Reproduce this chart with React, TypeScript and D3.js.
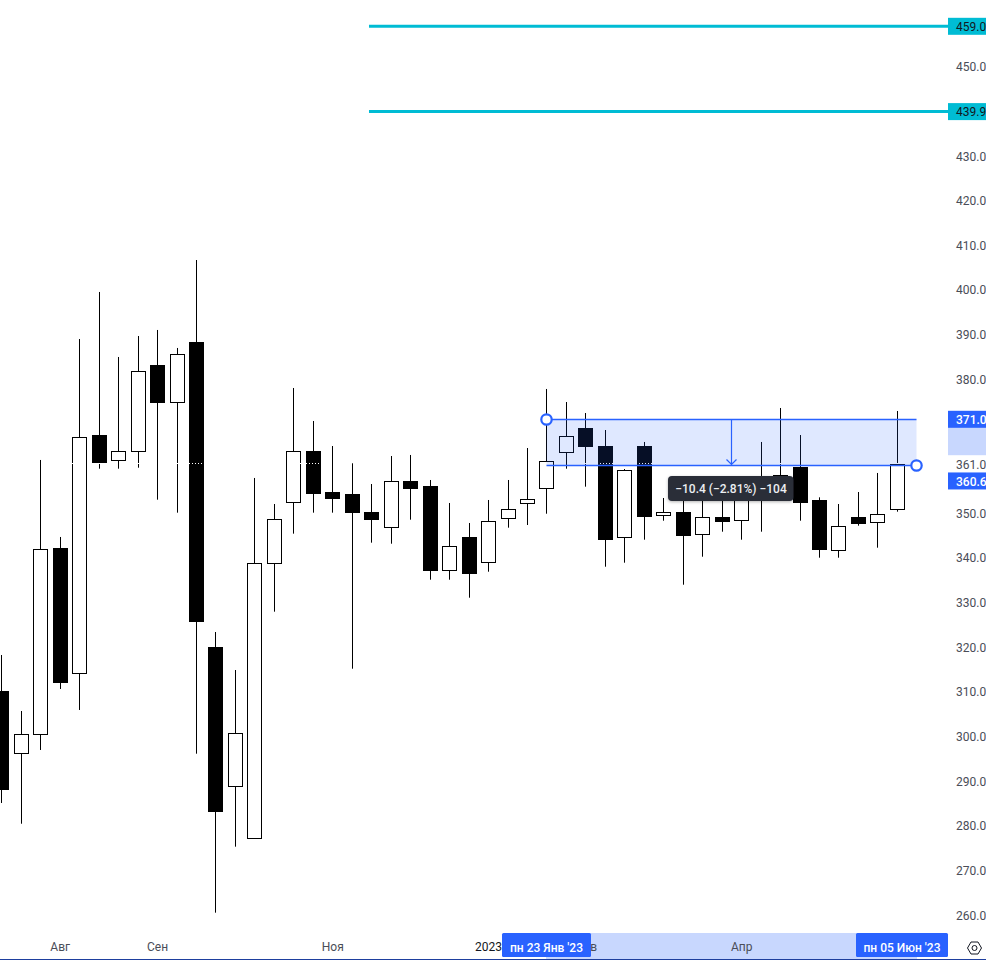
import { useEffect, useRef } from "react";
import * as d3 from "d3";

// weekly candles, values
const opens = [
  309.94, 296.21, 300.47, 341.96, 314.12, 367.26, 361.73, 363.74, 382.94, 374.72, 388.09, 319.79, 288.73, 277.18, 338.76, 352.42,
  363.9, 354.5, 354.05, 350.24, 346.82, 357.18, 355.84, 337.19, 344.64, 338.98, 348.83, 352.19, 355.55, 363.61, 368.83, 365.02,
  344.58, 365.02, 349.5, 350.24, 345.16, 349.12, 348.39, 354.05, 358.42, 360.1, 352.71, 341.67, 349.12, 347.94, 350.85,
];
const closes = [
  287.99, 300.47, 341.89, 312.02, 366.97, 361.28, 363.83, 381.75, 374.65, 385.56, 325.68, 283.13, 300.69, 338.76, 348.61, 363.83,
  354.56, 353.22, 350.09, 348.74, 357.12, 355.68, 337.1, 342.56, 336.65, 348.16, 350.85, 353.09, 361.6, 367.19, 364.86, 344.26,
  359.58, 349.41, 350.18, 345.16, 349.06, 348.29, 353.6, 356.29, 355.17, 352.33, 341.8, 347.04, 347.85, 349.73, 360.92,
];
const highs = [
  318.22, 305.68, 361.89, 344.65, 388.98, 399.51, 384.95, 389.65, 391.0, 386.97, 406.67, 323.37, 314.86, 357.86, 352.03, 378.01,
  370.62, 365.02, 361.15, 356.51, 362.78, 363.01, 357.41, 352.26, 347.78, 352.93, 357.41, 364.57, 377.79, 374.87, 372.41, 368.6,
  359.87, 365.92, 353.38, 355.17, 355.17, 354.05, 357.86, 365.92, 373.53, 367.48, 353.53, 352.03, 354.72, 358.98, 372.86,
];
const lows = [
  285.08, 280.44, 296.95, 310.61, 305.91, 359.94, 359.94, 360.16, 353.0, 350.09, 296.12, 260.52, 275.3, 277.18, 327.92, 345.39,
  350.09, 350.09, 315.15, 343.37, 343.14, 348.52, 335.08, 335.08, 331.05, 336.87, 346.73, 347.33, 349.86, 359.94, 355.91, 337.99,
  338.89, 344.04, 348.29, 333.96, 340.23, 345.83, 344.04, 345.83, 353.6, 348.29, 340.01, 340.01, 347.18, 342.25, 350.31,
];

const priceTicks = [460, 450, 440, 430, 420, 410, 400, 390, 380, 350, 340, 330, 320, 310, 300, 290, 280, 270, 260];
const monthLabels = ["Авг", "Сен", "Ноя", "2023", "Фев", "Апр"];
const monthIndex = [3, 8, 17, 25, 30, 38];

const levels = [459.0, 439.9];
const measureFrom = 371.0;
const measureTo = 360.6;
const lastClose = 361.0;
const measureStart = 28;
const measureEnd = 47;
const levelStart = 18.86;

const width = 986;
const height = 960;
const axisX = 948;

const BLUE = "#2962ff";
const TEAL = "#00bcd4";
const PALE = "#c8d7fe";
const TEXT = "#4a4d57";
const FONT = "Roboto, 'Open Sans', sans-serif";

// snap to the middle of a pixel so 1px strokes stay sharp
const crisp = (v: number) => Math.round(v - 0.5) + 0.5;

const App = () => {
  const svgRef = useRef<SVGSVGElement>(null);

  useEffect(() => {
    if (!svgRef.current) return;
    const svg = d3.select(svgRef.current);
    svg.selectAll("*").remove();

    const x = d3.scaleLinear().domain([0, 46]).range([1.8, 897.4]);
    const y = d3.scaleLinear().domain([450, 260]).range([66.5, 915]);
    const rows = opens.map((o, i) => ({ i, o, c: closes[i], h: highs[i], l: lows[i] }));
    const bodyW = 14;

    // candles
    const candles = svg.append("g").selectAll("g").data(rows).join("g");
    candles
      .append("line")
      .attr("x1", (d) => crisp(x(d.i)))
      .attr("x2", (d) => crisp(x(d.i)))
      .attr("y1", (d) => y(d.h))
      .attr("y2", (d) => y(d.l))
      .attr("stroke", "#000")
      .attr("stroke-width", 1);
    candles
      .append("rect")
      .attr("x", (d) => crisp(x(d.i)) - bodyW / 2)
      .attr("y", (d) => crisp(y(Math.max(d.o, d.c))))
      .attr("width", bodyW)
      .attr("height", (d) => Math.max(2, Math.round(Math.abs(y(d.o) - y(d.c)))))
      .attr("fill", (d) => (d.c >= d.o ? "#fff" : "#000"))
      .attr("stroke", "#000")
      .attr("stroke-width", 1);

    // last price line, only shows up on the black bodies
    svg
      .append("line")
      .attr("x1", 0)
      .attr("x2", x(46) + 8)
      .attr("y1", crisp(y(lastClose)))
      .attr("y2", crisp(y(lastClose)))
      .attr("stroke", "#fff")
      .attr("stroke-width", 1)
      .attr("stroke-dasharray", "1 2");

    // horizontal levels
    svg
      .selectAll("line.level")
      .data(levels)
      .join("line")
      .attr("class", "level")
      .attr("x1", x(levelStart))
      .attr("x2", axisX)
      .attr("y1", (d) => y(d))
      .attr("y2", (d) => y(d))
      .attr("stroke", TEAL)
      .attr("stroke-width", 3);

    // price range tool
    const x0 = crisp(x(measureStart));
    const x1 = crisp(x(measureEnd));
    const yA = crisp(y(measureFrom));
    const yB = crisp(y(measureTo));
    const xMid = crisp((x0 + x1) / 2);
    svg
      .append("rect")
      .attr("x", x0)
      .attr("y", yA)
      .attr("width", x1 - x0)
      .attr("height", yB - yA)
      .attr("fill", BLUE)
      .attr("fill-opacity", 0.15);
    svg
      .selectAll("line.edge")
      .data([yA, yB])
      .join("line")
      .attr("class", "edge")
      .attr("x1", x0)
      .attr("x2", x1)
      .attr("y1", (d) => d)
      .attr("y2", (d) => d)
      .attr("stroke", BLUE)
      .attr("stroke-width", 1.3);
    svg
      .append("path")
      .attr("d", `M${xMid},${yA}V${yB}M${xMid - 5},${yB - 6}L${xMid},${yB - 1}L${xMid + 5},${yB - 6}`)
      .attr("fill", "none")
      .attr("stroke", BLUE)
      .attr("stroke-width", 1.2);
    svg
      .selectAll("circle")
      .data([
        [x0, yA],
        [x1, yB],
      ])
      .join("circle")
      .attr("cx", (d) => d[0])
      .attr("cy", (d) => d[1])
      .attr("r", 5.2)
      .attr("fill", "#fff")
      .attr("stroke", BLUE)
      .attr("stroke-width", 2.2);

    // tooltip
    const defs = svg.append("defs");
    defs
      .append("filter")
      .attr("id", "tipShadow")
      .attr("x", "-10%")
      .attr("y", "-20%")
      .attr("width", "120%")
      .attr("height", "160%")
      .append("feDropShadow")
      .attr("dx", 0)
      .attr("dy", 1)
      .attr("stdDeviation", 1.5)
      .attr("flood-opacity", 0.3);
    svg
      .append("rect")
      .attr("x", 668)
      .attr("y", 476)
      .attr("width", 125.5)
      .attr("height", 25)
      .attr("rx", 4)
      .attr("fill", "#2a2e39")
      .attr("filter", "url(#tipShadow)");
    svg
      .append("text")
      .attr("x", 731)
      .attr("y", 492.5)
      .attr("text-anchor", "middle")
      .attr("fill", "#eceef2")
      .attr("font-family", FONT)
      .attr("font-size", 12)
      .attr("font-weight", 500)
      .text(`−${(measureFrom - measureTo).toFixed(1)} (−2.81%) −104`);

    // right axis
    const axisG = svg.append("g");
    axisG.append("rect").attr("x", axisX).attr("y", 0).attr("width", width - axisX).attr("height", height).attr("fill", "#fff");
    axisG
      .selectAll("text.tick")
      .data(priceTicks)
      .join("text")
      .attr("class", "tick")
      .attr("x", 956)
      .attr("y", (d) => y(d) + 4.7)
      .attr("fill", TEXT)
      .attr("font-family", FONT)
      .attr("font-size", 12)
      .text((d) => d.toFixed(1));
    axisG.append("rect").attr("x", axisX).attr("y", y(measureFrom)).attr("width", width - axisX).attr("height", y(lastClose) - 8.5 - y(measureFrom)).attr("fill", PALE);

    const priceLabel = (v: number, cy: number, bg: string, fg: string, weight: number) => {
      axisG.append("rect").attr("x", axisX).attr("y", cy - 8.5).attr("width", width - axisX).attr("height", 17).attr("fill", bg);
      axisG
        .append("text")
        .attr("x", 956)
        .attr("y", cy + 4.7)
        .attr("fill", fg)
        .attr("font-family", FONT)
        .attr("font-size", 12)
        .attr("font-weight", weight)
        .text(v.toFixed(1));
    };
    levels.forEach((v) => priceLabel(v, y(v), TEAL, "#131722", 400));
    priceLabel(lastClose, y(lastClose), "#fff", TEXT, 400);
    priceLabel(measureFrom, y(measureFrom), BLUE, "#fff", 500);
    priceLabel(measureTo, y(lastClose) + 17, BLUE, "#fff", 500);

    // time axis
    const axisY = 933;
    svg.append("rect").attr("x", 546).attr("y", axisY).attr("width", 371).attr("height", 26).attr("fill", PALE);
    svg
      .selectAll("text.month")
      .data(monthLabels)
      .join("text")
      .attr("class", "month")
      .attr("x", (_, i) => x(monthIndex[i]))
      .attr("y", 950.5)
      .attr("text-anchor", "middle")
      .attr("fill", (d) => (d === "2023" ? "#131722" : TEXT))
      .attr("font-family", FONT)
      .attr("font-size", 12)
      .text((d) => d);

    const dateLabel = (text: string, left: number, w: number) => {
      svg.append("rect").attr("x", left).attr("y", axisY).attr("width", w).attr("height", 24).attr("rx", 1.5).attr("fill", BLUE);
      svg
        .append("text")
        .attr("x", left + w / 2)
        .attr("y", 952)
        .attr("text-anchor", "middle")
        .attr("fill", "#fff")
        .attr("font-family", FONT)
        .attr("font-size", 12)
        .attr("font-weight", 500)
        .text(text);
    };
    dateLabel("пн 23 Янв '23", 502, 89);
    dateLabel("пн 05 Июн '23", 856, 92);

    // settings icon
    svg
      .append("path")
      .attr("d", "M967.5,948L971,942H978L981.5,948L978,954H971Z")
      .attr("fill", "none")
      .attr("stroke", "#131722")
      .attr("stroke-width", 1);
    svg.append("circle").attr("cx", 974.5).attr("cy", 948).attr("r", 2.5).attr("fill", "none").attr("stroke", "#131722").attr("stroke-width", 1);

    svg.append("line").attr("x1", 0).attr("x2", width).attr("y1", 959.5).attr("y2", 959.5).attr("stroke", "#1e3f9e").attr("stroke-width", 1);
  }, []);

  return (
    <svg
      ref={svgRef}
      width={width}
      height={height}
      viewBox={`0 0 ${width} ${height}`}
      style={{ position: "fixed", left: 0, top: 0, display: "block", background: "#fff" }}
    />
  );
};

export default App;
